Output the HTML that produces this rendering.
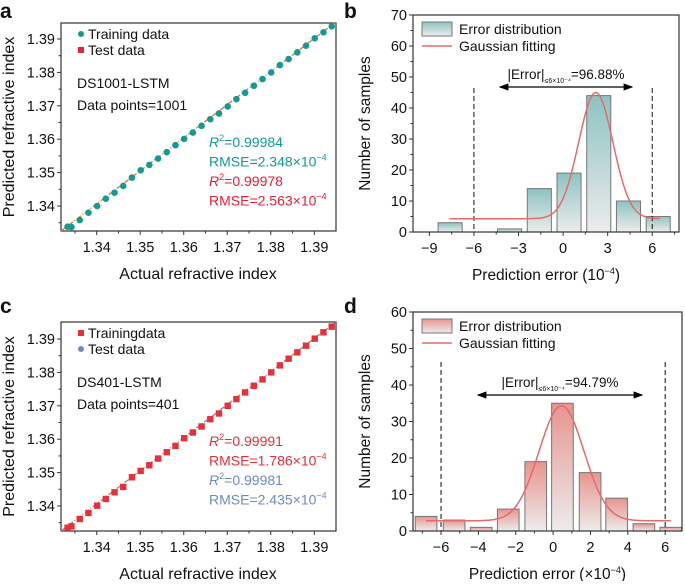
<!DOCTYPE html>
<html><head><meta charset="utf-8"><style>
body{margin:0;background:#fff;}
svg{font-family:"Liberation Sans",Arial,sans-serif;}
</style></head><body>
<svg id="s" width="685" height="581" viewBox="0 0 685 581" xmlns="http://www.w3.org/2000/svg">
<defs>
<linearGradient id="gT" x1="0" y1="0" x2="0" y2="1"><stop offset="0" stop-color="#8dc3c1"/><stop offset="1" stop-color="#ececec"/></linearGradient>
<linearGradient id="gR" x1="0" y1="0" x2="0" y2="1"><stop offset="0" stop-color="#e8948f"/><stop offset="1" stop-color="#ececec"/></linearGradient>
<marker id="ah" markerWidth="8" markerHeight="8" refX="7" refY="4" orient="auto-start-reverse"><path d="M0,1 L8,4 L0,7 Z" fill="#000"/></marker>
</defs>
</svg>
<script>
const actualA=[1.3333,1.3342,1.3361,1.3381,1.3401,1.3421,1.3441,1.3461,1.3481,1.3501,1.3521,1.3541,1.3561,1.3581,1.3601,1.3621,1.3641,1.3661,1.3681,1.3701,1.3721,1.3741,1.3761,1.3781,1.3801,1.3821,1.3841,1.3861,1.3881,1.3901,1.3921,1.3940];
const predA=[1.3338,1.3337,1.3358,1.3380,1.3400,1.3422,1.3440,1.3460,1.3485,1.3507,1.3523,1.3542,1.3561,1.3582,1.3601,1.3620,1.3640,1.3660,1.3677,1.3698,1.3720,1.3739,1.3760,1.3780,1.3800,1.3822,1.3840,1.3860,1.3880,1.3902,1.3920,1.3938];
const actualC=actualA;
const predC=[1.3335,1.3339,1.3361,1.3379,1.3401,1.3421,1.3441,1.3457,1.3486,1.3505,1.3522,1.3542,1.3561,1.3580,1.3603,1.3620,1.3638,1.3660,1.3677,1.3700,1.3720,1.3740,1.3760,1.3779,1.3800,1.3821,1.3841,1.3860,1.3880,1.3901,1.3920,1.3937];
const scatterTicks=[1.34,1.35,1.36,1.37,1.38,1.39];
const binsB=[-7.6,-5.6,-3.6,-1.6,0.4,2.4,4.4,6.4];
const countsB=[3,0,1,14,19,44,10,5];
const ticksBx=[-9,-6,-3,0,3,6];
const ticksBy=[0,10,20,30,40,50,60,70];
const binsD=[-6.8,-5.3,-3.85,-2.4,-0.93,0.5,1.98,3.4,4.86,6.3];
const countsD=[4,3,1,6,19,35,16,9,2,1];
const ticksDx=[-6,-4,-2,0,2,4,6];
const ticksDy=[0,10,20,30,40,50,60];
const gaussB=[4.3,40.7,2.2,1.15];
const gaussD=[2.8,31.5,0.45,1.2];

const S=document.getElementById('s');const NS='http://www.w3.org/2000/svg';
function E(t,a,txt){const e=document.createElementNS(NS,t);for(const k in a)e.setAttribute(k,a[k]);if(txt!==undefined)e.textContent=txt;S.appendChild(e);return e;}
function lin(d0,d1,r0,r1){return v=>r0+(v-d0)/(d1-d0)*(r1-r0);}

function frame(L,T,R,B,name){const f=E('rect',{x:L,y:T,width:R-L,height:B-T,fill:'none',stroke:'#333','stroke-width':1.2});}
function yTicks(ticks,y,L,fmt,name,minor){ticks.forEach(t=>{const l=E('line',{x1:L,x2:L-4,y1:y(t),y2:y(t),stroke:'#333'});const tx=E('text',{x:L-6,y:y(t)+5,'font-size':14.5,'text-anchor':'end',fill:'#111'},fmt(t));});
 if(minor)minor.forEach(t=>{const l=E('line',{x1:L,x2:L-2.5,y1:y(t),y2:y(t),stroke:'#333'});});}
function xTicks(ticks,x,B,fmt,name,minor){ticks.forEach(t=>{const l=E('line',{x1:x(t),x2:x(t),y1:B,y2:B+4,stroke:'#333'});const tx=E('text',{x:x(t),y:B+21,'font-size':14.5,'text-anchor':'middle',fill:'#111'},fmt(t));});
 if(minor)minor.forEach(t=>{const l=E('line',{x1:x(t),x2:x(t),y1:B,y2:B+2.5,stroke:'#333'});});}
function label(x,y,t,name,extra){const a={x:x,y:y,'font-size':15,fill:'#111','text-anchor':'middle'};Object.assign(a,extra||{});const e=E('text',a,t);return e;}
function panelLetter(x,y,t){const e=E('text',{x:x,y:y,'font-size':21,'font-weight':'bold',fill:'#111'},t);}

function scatter(T,B,actual,pred,trainColor,testColor,trainShape,name,texts){
 const L=61,R=336;const x=lin(1.34,1.39,96.7,314.3);const y=lin(1.34,1.39,B-25,B-25-167);
 const minor=[1.335,1.345,1.355,1.365,1.375,1.385];
 frame(L,T,R,B,name);
 const d=E('line',{x1:L,y1:B,x2:R,y2:y(1.3951),stroke:trainShape==='circle'?'#e8742c':'#888','stroke-width':1.3,'stroke-dasharray':'5 2 1 2'});
 actual.forEach((a,i)=>{let m;if(trainShape==='circle')m=E('circle',{cx:x(a),cy:y(pred[i]),r:3.3,fill:trainColor});else m=E('rect',{x:x(a)-3.2,y:y(pred[i])-3.2,width:6.4,height:6.4,fill:trainColor});});
 yTicks(scatterTicks,y,L,v=>v.toFixed(2),name,minor);xTicks(scatterTicks,x,B,v=>v.toFixed(2),name,minor);
 label(198,B+48,'Actual refractive index',name+'-x-axis-title',{'font-size':16});
 label(0,0,'Predicted refractive index',name+'-y-axis-title',{'font-size':16,transform:`translate(14,${(T+B)/2}) rotate(-90)`});
 const s1=trainShape==='circle'?E('circle',{cx:81,cy:T+11,r:3,fill:trainColor}):E('rect',{x:78,y:T+8,width:6,height:6,fill:trainColor});
 label(88,T+16,texts[0],name+'-legend-train',{'text-anchor':'start','font-size':14});
 const s2=trainShape==='circle'?E('rect',{x:78,y:T+24,width:6,height:6,fill:testColor}):E('circle',{cx:81,cy:T+27,r:3,fill:testColor});
 label(88,T+32,'Test data',name+'-legend-test',{'text-anchor':'start','font-size':14});
 label(77,T+65,texts[1],name+'-model-name',{'text-anchor':'start','font-size':14});
 label(77,T+87,texts[2],name+'-data-points',{'text-anchor':'start','font-size':14});
 const c1=trainColor,c2=testColor;
 [[texts[3],c1,0],[texts[4],c1,1],[texts[5],c2,0],[texts[6],c2,1]].forEach((r,i)=>{const yy=T+124+i*19.5;
  if(r[2]===0){const e=E('text',{x:209,y:yy,'font-size':14,fill:r[1]});
   const a=document.createElementNS(NS,'tspan');a.setAttribute('font-style','italic');a.textContent='R';e.appendChild(a);
   const b=document.createElementNS(NS,'tspan');b.setAttribute('font-size','9');b.setAttribute('dy','-6');b.textContent='2';e.appendChild(b);
   const c=document.createElementNS(NS,'tspan');c.setAttribute('dy','6');c.textContent='='+r[0];e.appendChild(c);}
  else{const e=E('text',{x:209,y:yy,'font-size':14,fill:r[1]});
   const a=document.createElementNS(NS,'tspan');a.textContent='RMSE='+r[0]+'×10';e.appendChild(a);
   const b=document.createElementNS(NS,'tspan');b.setAttribute('font-size','9');b.setAttribute('dy','-6');b.textContent='−4';e.appendChild(b);}
 });
}

function hist(L,T,R,B,xmin,xmax,ymax,bins,counts,binW,gauss,gRange,ticksX,ticksY,grad,name,pct,xtitle,minorX,arrow){
 const x=lin(xmin,xmax,L,R),y=lin(0,ymax,B,T);
 const bw=(x(binW)-x(0));
 bins.forEach((c,i)=>{if(!counts[i])return;const r=E('rect',{x:x(c)-bw/2,y:y(counts[i]),width:bw,height:B-y(counts[i]),fill:`url(#${grad})`,stroke:'#777','stroke-width':1});});
 [-6,6].forEach(v=>{const l=E('line',{x1:x(v),x2:x(v),y1:arrow[3],y2:B,stroke:'#222','stroke-dasharray':'5 3','stroke-width':1.1});});
 let p='';for(let v=gRange[0];v<=gRange[1]+1e-9;v+=0.05){const g=gauss[0]+gauss[1]*Math.exp(-Math.pow(v-gauss[2],2)/(2*gauss[3]*gauss[3]));p+=(p?'L':'M')+x(v).toFixed(1)+','+y(g).toFixed(1);}
 const gp=E('path',{d:p,fill:'none',stroke:'#e66a6a','stroke-width':1.5});
 frame(L,T,R,B,name);
 yTicks(ticksY,y,L,v=>String(v),name,ticksY.slice(0,-1).map(v=>v+5));
 xTicks(ticksX,x,B,v=>v<0?'−'+(-v):String(v),name,minorX);
 const ar=E('line',{x1:arrow[0],x2:arrow[1],y1:arrow[2],y2:arrow[2],stroke:'#000','stroke-width':1.2,'marker-start':'url(#ah)','marker-end':'url(#ah)'});
 const t=E('text',{x:(arrow[0]+arrow[1])/2,y:arrow[2]-8,'font-size':13.5,fill:'#111','text-anchor':'middle'});
 const t1=document.createElementNS(NS,'tspan');t1.textContent='|Error|';t.appendChild(t1);const t2=document.createElementNS(NS,'tspan');t2.setAttribute('font-size','7');t2.setAttribute('dy','4');t2.textContent='≤6×10⁻⁴';t.appendChild(t2);const t3=document.createElementNS(NS,'tspan');t3.setAttribute('dy','-4');t3.textContent='='+pct;t.appendChild(t3);
 const lg=E('rect',{x:L+9,y:T+7,width:30,height:14,fill:`url(#${grad})`,stroke:'#777'});
 label(L+46,T+19,'Error distribution',name+'-legend-bar',{'text-anchor':'start','font-size':14});
 const ll=E('line',{x1:L+9,x2:L+39,y1:T+31,y2:T+31,stroke:'#e66a6a','stroke-width':1.5});
 label(L+46,T+36,'Gaussian fitting',name+'-legend-line',{'text-anchor':'start','font-size':14});
 const xt=E('text',{x:(L+R)/2,y:B+48,'font-size':15.5,fill:'#111','text-anchor':'middle'});
 const a1=document.createElementNS(NS,'tspan');a1.textContent=xtitle;xt.appendChild(a1);const a2=document.createElementNS(NS,'tspan');a2.setAttribute('font-size','9');a2.setAttribute('dy','-6');a2.textContent='−4';xt.appendChild(a2);const a3=document.createElementNS(NS,'tspan');a3.setAttribute('dy','6');a3.textContent=')';xt.appendChild(a3);
 label(0,0,'Number of samples',name+'-y-axis-title',{'font-size':15.5,transform:`translate(${L-43},${(T+B)/2}) rotate(-90)`});
}

panelLetter(0,18,'a');panelLetter(344,18,'b');panelLetter(0,313,'c');panelLetter(344,313,'d');
scatter(23,231,actualA,predA,'#139a92','#e8203a','circle','panel-a',['Training data','DS1001-LSTM','Data points=1001','0.99984','2.348','0.99978','2.563']);
scatter(322,531,actualC,predC,'#e8303a','#6f88c6','square','panel-c',['Trainingdata','DS401-LSTM','Data points=401','0.99991','1.786','0.99981','2.435']);
hist(413,15,679,232,-10.1,7.8,70,binsB,countsB,1.62,gaussB,[-7.65,6.5],ticksBx,ticksBy,'gT','panel-b','96.88%','Prediction error (10',[-7.5,-4.5,-1.5,1.5,4.5,7.5],[500,632,87,88]);
hist(413,312,682,531,-7.5,6.9,60,binsD,countsD,1.16,gaussD,[-6.8,6.3],ticksDx,ticksDy,'gR','panel-d','94.79%','Prediction error (×10',[-7,-5,-3,-1,1,3,5],[478,642,395,362]);
</script>
</body></html>
